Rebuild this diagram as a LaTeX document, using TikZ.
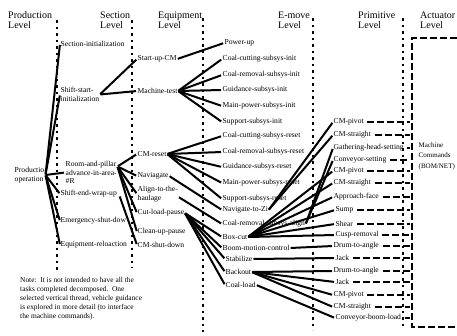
\documentclass[tikz,border=0pt]{standalone}
\usepackage{fontspec}
\setmainfont{Liberation Serif}
\begin{document}
\begin{tikzpicture}[x=1pt,y=-1pt,
  lbl/.style={anchor=west,inner sep=0.5pt,font=\fontsize{7.6}{8.5}\selectfont,align=left},
  hdr/.style={anchor=west,inner sep=0pt,font=\fontsize{10}{10}\selectfont,align=left},
  note/.style={anchor=north west,inner sep=0pt,font=\fontsize{7.4}{9}\selectfont,align=left},
  link/.style={line width=2pt,shorten <=0.5pt,shorten >=1pt},
  levelline/.style={line width=2pt,dash pattern=on 2.5pt off 4pt},
  cmdline/.style={line width=2pt,dash pattern=on 7pt off 3pt},
]
\useasboundingbox (0,0) rectangle (457,335);

% level headings
\node[hdr] (hprod) at (8,20) {Production\\Level};
\node[hdr] (hsect) at (100,20) {Section\\Level};
\node[hdr] (hequip) at (158,20) {Equipment\\Level};
\node[hdr] (hemove) at (278,20) {E-move\\Level};
\node[hdr] (hprim) at (358,20) {Primitive\\Level};
\node[hdr] (hact) at (420,20) {Actuator\\Level};

% level separators
\draw[levelline] (57,20) -- (57,270);
\draw[levelline] (131.5,20) -- (131.5,268);
\draw[levelline] (203,18) -- (203,332);
\draw[levelline] (313,18) -- (313,330);
\draw[levelline] (403,18) -- (403,328);

% actuator boundary
\coordinate (actL) at (410,0);
\draw[cmdline,line width=2.2pt] (457,38) -- (412,38) -- (412,327) -- (457,327);
\node[lbl,font=\fontsize{7}{10.5}\selectfont] (mc) at (418,156) {Machine\\Commands\\(BOM/NET)};

% production level
\node[lbl] (p0) at (14,175) {Productio-\\operation};
\node[lbl] (p1) at (60,44) {Section-initialization};
\node[lbl] (p2) at (60,94.5) {Shift-start-\\initialization};
\node[lbl] (p3) at (65,172.5) {Room-and-pillar\\advance-in-area-\\\#R};
\node[lbl] (p4) at (60,194) {Shift-end-wrap-up};
\node[lbl] (p5) at (60,221) {Emergency-shut-dow};
\node[lbl] (p6) at (60,245) {Equipment-reloaction};

% section level
\node[lbl] (s1) at (137,59) {Start-up-CM};
\node[lbl] (s2) at (137,91) {Machine-test};
\node[lbl] (s3) at (137,154) {CM-reset};
\node[lbl] (s4) at (137,176) {Naviagate};
\node[lbl] (s5) at (137,194) {Align-to-the-\\haulage};
\node[lbl] (s6) at (137,213) {Cut-load-pause};
\node[lbl] (s7) at (137,232) {Clean-up-pause};
\node[lbl] (s8) at (137,245) {CM-shut-down};

% equipment level
\node[lbl] (e1) at (224,43) {Power-up};
\node[lbl] (e2) at (222,59) {Coal-cutting-subsys-init};
\node[lbl] (e3) at (222,75) {Coal-removal-subsys-init};
\node[lbl] (e4) at (222,90) {Guidance-subsys-init};
\node[lbl] (e5) at (222,106) {Main-power-subsys-init};
\node[lbl] (e6) at (222,122) {Support-subsys-init};
\node[lbl] (e7) at (222,136) {Coal-cutting-subsys-reset};
\node[lbl] (e8) at (222,152) {Coal-removal-subsys-reset};
\node[lbl] (e9) at (222,167) {Guidance-subsys-reset};
\node[lbl] (e10) at (222,183) {Main-power-subsys-reset};
\node[lbl] (e11) at (222,199) {Support-subsys-reset};
\node[lbl] (e12) at (222,210) {Navigate-to-Zi};
\node[lbl] (e13) at (222,224) {Coal-removal-subsys-align};
\node[lbl] (e14) at (222,237) {Box-cut};
\node[lbl] (e15) at (222,248) {Boom-motion-control};
\node[lbl] (e16) at (225,259) {Stabilize};
\node[lbl] (e17) at (225,272) {Backout};
\node[lbl] (e18) at (225,285) {Coal-load};

% primitive level
\node[lbl] (m1) at (333,122) {CM-pivot};
\node[lbl] (m2) at (333,135) {CM-straight};
\node[lbl] (m3) at (333,148) {Gathering-head-setting};
\node[lbl] (m4) at (333,160) {Conveyor-setting};
\node[lbl] (m5) at (333,171) {CM-pivot};
\node[lbl] (m6) at (333,183) {CM-straight};
\node[lbl] (m7) at (333,197) {Approach-face};
\node[lbl] (m8) at (335,210) {Sump};
\node[lbl] (m9) at (335,224) {Shear};
\node[lbl] (m10) at (335,235) {Cusp-removal};
\node[lbl] (m11) at (333,246) {Drum-to-angle};
\node[lbl] (m12) at (335,258) {Jack};
\node[lbl] (m13) at (333,271) {Drum-to-angle};
\node[lbl] (m14) at (335,282) {Jack};
\node[lbl] (m15) at (333,295) {CM-pivot};
\node[lbl] (m16) at (333,307) {CM-straight};
\node[lbl] (m17) at (335,318) {Conveyor-boom-load};

% note
\node[note] (nt) at (20,277) {Note:\ \ It is not intended to have all the\\tasks completed decomposed.\ \ One\\selected vertical thread, vehicle guidance\\is explored in more detail (to interface\\the machine commands).};

% production -> section-level tasks
\foreach \t in {p1,p2,p3,p4,p5,p6}
  \draw[link] ([xshift=-2pt]p0.east) -- (\t.west);

% production -> section
\foreach \t in {s1,s2}
  \draw[link] (p2.east) -- (\t.west);
\foreach \t in {s3,s4,s5,s6,s7}
  \draw[link] ([yshift=6pt]p3.east) -- (\t.west);
\draw[link] ([xshift=2pt,yshift=-2pt]p4.east) -- (s8.west);

% section -> equipment
\draw[link] (s1.east) -- (e1.west);
\foreach \t in {e2,e3,e4,e5,e6}
  \draw[link] (s2.east) -- (\t.west);
\foreach \t in {e7,e8,e9,e10,e11}
  \draw[link] (s3.east) -- (\t.west);
\draw[link] (s4.east) -- (e12.west);
\draw[link] ([yshift=-3pt]s5.east) -- (e13.west);
\foreach \t in {e14,e15,e16,e17,e18}
  \draw[link] (s6.east) -- (\t.west);

% equipment -> primitive
\foreach \t in {m1,m2}
  \draw[link] (e12.east) -- (\t.west);
\foreach \t in {m3,m4}
  \draw[link] (e13.east) -- (\t.west);
\foreach \t in {m5,m6,m7,m8,m9,m10}
  \draw[link] (e14.east) -- (\t.west);
\draw[link] (e15.east) -- (m11.west);
\draw[link] (e16.east) -- (m12.west);
\foreach \t in {m13,m14,m15,m16}
  \draw[link] (e17.east) -- (\t.west);
\draw[link] (e18.east) -- (m17.west);

% primitive -> machine commands
\foreach \t in {m1,m2,m3,m4,m5,m6,m7,m8,m9,m10,m11,m12,m13,m14,m15,m16,m17}
  \draw[cmdline,shorten <=3pt] (\t.east) -- (\t.east -| actL);

\end{tikzpicture}
\end{document}
